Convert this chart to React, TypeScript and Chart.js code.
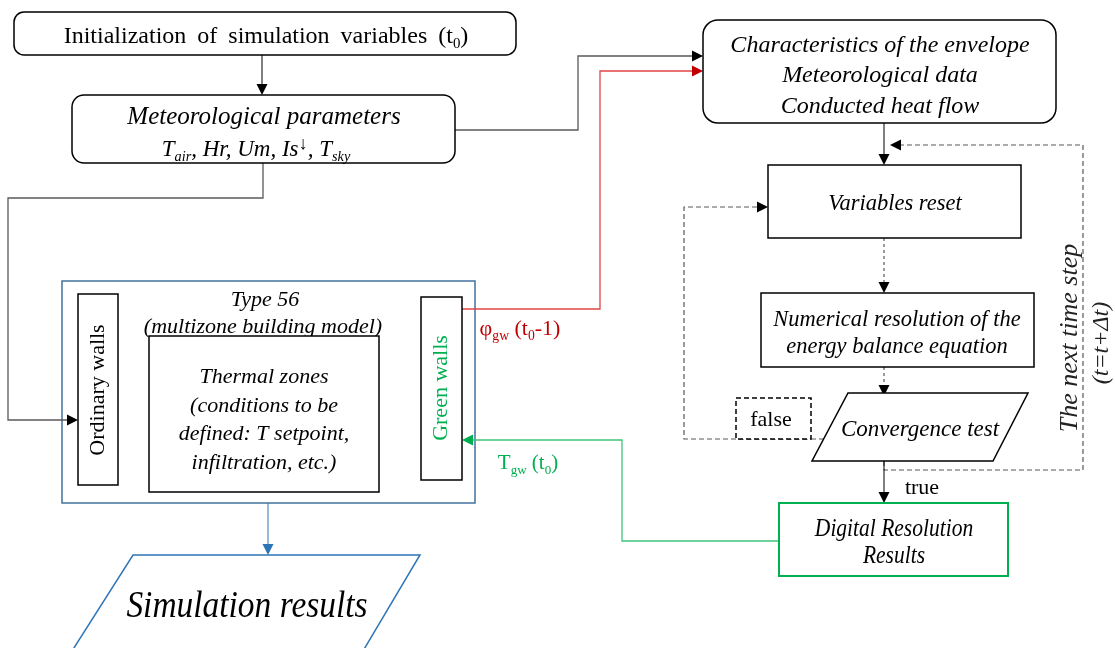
import React, { useEffect, useRef } from "react";
import { Chart, registerables } from "chart.js";

Chart.register(...registerables);

// ---------- content (text labels) ----------
const INIT_LABEL = ["Initialization of simulation variables (t", "0", ")"];
const MET_TITLE = "Meteorological parameters";
const ENVELOPE_LINES = ["Characteristics of the envelope", "Meteorological data", "Conducted heat flow"];
const TYPE56_LINES = ["Type 56", "(multizone building model)"];
const THERMAL_LINES = ["Thermal zones", "(conditions to be", "defined: T setpoint,", "infiltration, etc.)"];
const WALL_LABELS = ["Ordinary walls", "Green walls"];
const LOOP_LABELS = ["Variables reset", "Convergence test", "false", "true"];
const NUMERICAL_LINES = ["Numerical resolution of the", "energy balance equation"];
const DIGITAL_LINES = ["Digital Resolution", "Results"];
const NEXT_STEP_LINES = ["The next time step", "(t=t+\u0394t)"];
const OUTPUT_LABEL = "Simulation results";

// node centres (diagram units) used as invisible scatter points
const NODE_X = [265, 263, 880, 265, 98, 264, 441, 894, 897, 920, 893, 248];
const NODE_Y = [34, 129, 72, 392, 390, 414, 388, 202, 331, 427, 540, 604];

type Seg = { t: string; sub?: boolean; sup?: boolean; big?: boolean };

const SERIF = '"Liberation Serif", "Times New Roman", serif';

export default function App() {
  const ref = useRef<HTMLCanvasElement | null>(null);

  useEffect(() => {
    if (!ref.current) return;

    const diagram = {
      id: "diagram",
      afterDraw(chart: any) {
        const ctx: CanvasRenderingContext2D = chart.ctx;
        const xs = chart.scales.x;
        const ys = chart.scales.y;
        const X = (v: number) => xs.getPixelForValue(v);
        const Y = (v: number) => ys.getPixelForValue(v);

        const font = (size: number, italic: boolean) =>
          `${italic ? "italic " : ""}${size}px ${SERIF}`;

        const segSize = (s: Seg, size: number) => (s.big ? size * 0.8 : s.sub || s.sup ? size * 0.62 : size);

        const rich = (
          segs: Seg[], cx: number, cy: number, size: number, italic: boolean, color: string,
          scaleX = 1, wordSp = 0, letterSp = 0
        ) => {
          ctx.save();
          ctx.fillStyle = color;
          ctx.textBaseline = "alphabetic";
          ctx.textAlign = "left";
          (ctx as any).wordSpacing = `${wordSp}px`;
          (ctx as any).letterSpacing = `${letterSp}px`;
          const widths = segs.map((s) => {
            ctx.font = font(segSize(s, size), italic);
            return ctx.measureText(s.t).width;
          });
          const total = widths.reduce((a, b) => a + b, 0) * scaleX;
          ctx.translate(X(cx) - total / 2, Y(cy) + size * 0.33);
          ctx.scale(scaleX, 1);
          let x = 0;
          segs.forEach((s, i) => {
            ctx.font = font(segSize(s, size), italic);
            const dy = s.sub ? size * 0.22 : s.sup ? -size * 0.3 : 0;
            ctx.fillText(s.t, x, dy);
            x += widths[i];
          });
          ctx.restore();
        };

        const text = (t: string, cx: number, cy: number, size: number, italic: boolean, color = "#000", scaleX = 1, wordSp = 0, letterSp = 0) =>
          rich([{ t }], cx, cy, size, italic, color, scaleX, wordSp, letterSp);

        const vtext = (t: string, cx: number, cy: number, size: number, italic: boolean, color = "#000") => {
          ctx.save();
          ctx.translate(X(cx), Y(cy));
          ctx.rotate(-Math.PI / 2);
          ctx.font = font(size, italic);
          ctx.fillStyle = color;
          ctx.textAlign = "center";
          ctx.textBaseline = "middle";
          ctx.fillText(t, 0, 0);
          ctx.restore();
        };

        const rect = (x0: number, y0: number, x1: number, y1: number, color: string, lw: number, r = 0, dash: number[] = [], fill = true) => {
          ctx.save();
          ctx.strokeStyle = color;
          ctx.lineWidth = lw;
          ctx.setLineDash(dash);
          ctx.beginPath();
          if (r > 0) {
            (ctx as any).roundRect(X(x0), Y(y0), X(x1) - X(x0), Y(y1) - Y(y0), r);
          } else {
            ctx.rect(X(x0), Y(y0), X(x1) - X(x0), Y(y1) - Y(y0));
          }
          if (fill) {
            ctx.fillStyle = "#fff";
            ctx.fill();
          }
          ctx.stroke();
          ctx.restore();
        };

        const poly = (pts: number[][], color: string, lw: number, dash: number[] = [], close = false) => {
          ctx.save();
          ctx.strokeStyle = color;
          ctx.lineWidth = lw;
          ctx.setLineDash(dash);
          ctx.beginPath();
          pts.forEach((p, i) => (i === 0 ? ctx.moveTo(X(p[0]), Y(p[1])) : ctx.lineTo(X(p[0]), Y(p[1]))));
          if (close) {
            ctx.closePath();
            ctx.fillStyle = "#fff";
            ctx.fill();
          }
          ctx.stroke();
          ctx.restore();
        };

        const head = (tx: number, ty: number, dir: "r" | "l" | "d", color: string, len = 11, half = 5.5) => {
          const px = X(tx);
          const py = Y(ty);
          ctx.save();
          ctx.fillStyle = color;
          ctx.beginPath();
          if (dir === "r") {
            ctx.moveTo(px, py);
            ctx.lineTo(px - len, py - half);
            ctx.lineTo(px - len, py + half);
          } else if (dir === "l") {
            ctx.moveTo(px, py);
            ctx.lineTo(px + len, py - half);
            ctx.lineTo(px + len, py + half);
          } else {
            ctx.moveTo(px, py);
            ctx.lineTo(px - half, py - len);
            ctx.lineTo(px + half, py - len);
          }
          ctx.closePath();
          ctx.fill();
          ctx.restore();
        };

        const BLACK = "#000";
        const GRAY = "#595959";
        const RED_LINE = "#e04545";
        const RED = "#c00000";
        const GREEN_LINE = "#40c47a";
        const GREEN = "#00b050";
        const BLUE = "#2e75b6";
        const BLUE_DARK = "#41719c";

        // ---- boxes (background ones first) ----
        rect(62, 281, 475, 503, BLUE_DARK, 1.5, 0, [], false);

        // ---- connectors ----
        poly([[262, 55], [262, 85]], BLACK, 1);
        head(262, 95, "d", BLACK);
        poly([[455, 130], [578, 130], [578, 56], [693, 56]], GRAY, 1.3);
        head(703, 56, "r", BLACK);
        poly([[462, 309], [600, 309], [600, 71], [693, 71]], RED_LINE, 1.3);
        head(703, 71, "r", RED);
        poly([[263, 163], [263, 198], [8, 198], [8, 420], [68, 420]], GRAY, 1.3);
        head(78, 420, "r", BLACK);

        poly([[884, 123], [884, 155]], BLACK, 1);
        head(884, 165, "d", BLACK);
        poly([[884, 461], [884, 470], [1083, 470], [1083, 145], [900, 145]], GRAY, 1.2, [5, 3]);
        head(890, 145, "l", BLACK);
        poly([[884, 238], [884, 283]], GRAY, 1.2, [3, 3]);
        head(884, 293, "d", BLACK);
        poly([[884, 367], [884, 386]], GRAY, 1.2, [3, 3]);
        head(884, 396, "d", BLACK);
        poly([[824, 439], [684, 439], [684, 207], [758, 207]], GRAY, 1.2, [5, 3]);
        head(768, 207, "r", BLACK);
        poly([[884, 461], [884, 493]], BLACK, 1);
        head(884, 503, "d", BLACK);

        poly([[779, 541], [622, 541], [622, 440], [472, 440]], GREEN_LINE, 1.3);
        head(462, 440, "l", GREEN);

        poly([[268, 503], [268, 545]], BLUE, 1);
        head(268, 555, "d", BLUE);

        // ---- nodes ----
        rect(14, 12, 516, 55, BLACK, 1.5, 10);
        rich([{ t: INIT_LABEL[0] }, { t: INIT_LABEL[1], sub: true }, { t: INIT_LABEL[2] }], 266, 35, 24, false, BLACK, 1, 5);

        rect(72, 95, 455, 163, BLACK, 1.5, 12);
        text(MET_TITLE, 264, 116, 25, true, BLACK);
        rich(
          [
            { t: "T" }, { t: "air", sub: true }, { t: ", Hr, Um, Is" }, { t: "\u2193", sup: true, big: true },
            { t: ", T" }, { t: "sky", sub: true },
          ],
          256, 148, 23, true, BLACK
        );

        rect(703, 20, 1056, 123, BLACK, 1.5, 15);
        ENVELOPE_LINES.forEach((l, i) => text(l, 880, 44 + i * 30.5, 24, true));

        text(TYPE56_LINES[0], 265, 299, 22, true);
        text(TYPE56_LINES[1], 263, 326, 22, true);

        rect(78, 294, 118, 485, BLACK, 1.5);
        vtext(WALL_LABELS[0], 98, 390, 22, false);

        rect(149, 336, 379, 492, BLACK, 1.5);
        THERMAL_LINES.forEach((l, i) => text(l, 264, 376 + i * 28.5, 22, true));

        rect(421, 297, 462, 480, BLACK, 1.5);
        vtext(WALL_LABELS[1], 441, 388, 22, false, GREEN);

        rich([{ t: "\u03c6" }, { t: "gw", sub: true }, { t: " (t" }, { t: "0", sub: true }, { t: "-1)" }], 520, 328, 22, false, RED);
        rich([{ t: "T" }, { t: "gw", sub: true }, { t: " (t" }, { t: "0", sub: true }, { t: ")" }], 528, 462, 21, false, GREEN);

        rect(768, 165, 1021, 238, BLACK, 1.5);
        text(LOOP_LABELS[0], 895, 203, 22.5, true);

        rect(761, 293, 1034, 367, BLACK, 1.5);
        text(NUMERICAL_LINES[0], 897, 319, 22.5, true);
        text(NUMERICAL_LINES[1], 897, 346, 22.5, true);

        poly([[848, 393], [1028, 393], [993, 461], [812, 461]], BLACK, 1.5, [], true);
        text(LOOP_LABELS[1], 920, 428, 23, true);

        rect(736, 398, 811, 439, BLACK, 1.5, 0, [5, 3]);
        text(LOOP_LABELS[2], 771, 419, 22, false);
        text(LOOP_LABELS[3], 922, 487, 22, false);

        vtext(NEXT_STEP_LINES[0], 1070, 338, 26, true, "#222");
        vtext(NEXT_STEP_LINES[1], 1102, 343, 24, true, "#222");

        rect(779, 503, 1008, 576, GREEN, 2);
        text(DIGITAL_LINES[0], 894, 528, 25, true, BLACK, 0.86);
        text(DIGITAL_LINES[1], 894, 555, 25, true, BLACK, 0.86);

        poly([[133, 555], [420, 555], [363, 651], [72, 651]], BLUE, 1.5, [], true);
        text(OUTPUT_LABEL, 247, 604, 38, true, BLACK, 0.88);
      },
    };

    const chart = new Chart(ref.current, {
      type: "scatter",
      data: {
        datasets: [
          {
            data: NODE_X.map((x, i) => ({ x, y: NODE_Y[i] })),
            pointRadius: 0,
            pointHoverRadius: 0,
          },
        ],
      },
      options: {
        animation: false,
        responsive: true,
        maintainAspectRatio: false,
        layout: { padding: 0 },
        events: [],
        plugins: { legend: { display: false }, tooltip: { enabled: false } },
        scales: {
          x: { type: "linear", min: 0, max: 1115, display: false },
          y: { type: "linear", min: 0, max: 648, reverse: true, display: false },
        },
      },
      plugins: [diagram],
    });
    return () => chart.destroy();
  }, []);

  return (
    <div style={{ position: "fixed", left: 0, top: 0, width: 1115, height: 648, background: "#fff" }}>
      <canvas ref={ref} />
    </div>
  );
}
